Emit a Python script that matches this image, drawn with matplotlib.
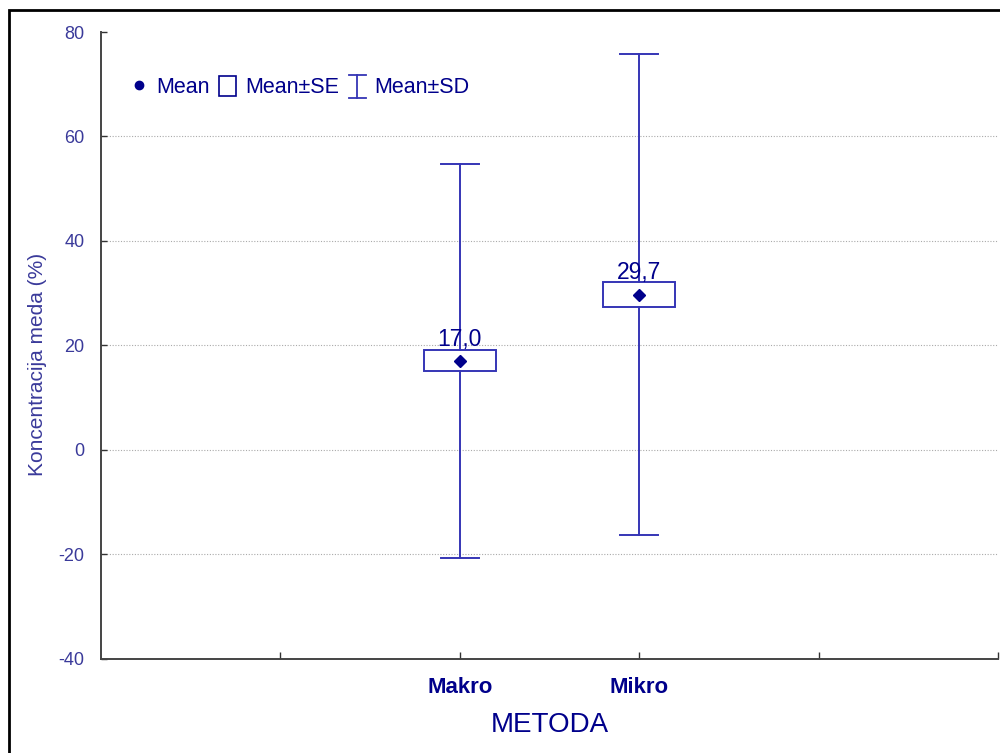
import matplotlib
matplotlib.use('Agg')
import matplotlib.pyplot as plt
from matplotlib.patches import Rectangle
from matplotlib.lines import Line2D
from matplotlib.legend_handler import HandlerBase

# data
methods = ['Makro', 'Mikro']
means = [17.0, 29.7]
se_low = [15.1, 27.4]
se_high = [19.2, 32.1]
sd_low = [-20.7, -16.3]
sd_high = [54.7, 75.7]
mean_labels = ['17,0', '29,7']
yticks = [-40, -20, 0, 20, 40, 60, 80]

line_col = '#3535b5'
navy = '#00008b'
tick_col = '#3a3a9a'

plt.rcParams['font.family'] = ['Liberation Sans', 'DejaVu Sans']


# legend handler for the whisker symbol
class HandlerIBeam(HandlerBase):
    def create_artists(self, legend, orig_handle, xdescent, ydescent,
                       width, height, fontsize, trans):
        cx = width / 2 - xdescent
        w = height * 0.45
        y0 = -ydescent - height * 0.1
        y1 = -ydescent + height * 1.05
        l1 = Line2D([cx, cx], [y0, y1], color=line_col, lw=1.3, transform=trans)
        l2 = Line2D([cx - w, cx + w], [y0, y0], color=line_col, lw=1.3, transform=trans)
        l3 = Line2D([cx - w, cx + w], [y1, y1], color=line_col, lw=1.3, transform=trans)
        return [l1, l2, l3]


class IBeam(object):
    pass


fig = plt.figure(figsize=(10, 7.53), dpi=100)
ax = fig.add_axes([0.101, 0.125, 0.897, 0.8325])

positions = [2, 3]
box_w = 0.4
cap_w = 0.21
for i, x in enumerate(positions):
    # SD whisker
    ax.plot([x, x], [sd_low[i], se_low[i]], color=line_col, lw=1.4)
    ax.plot([x, x], [se_high[i], sd_high[i]], color=line_col, lw=1.4)
    ax.plot([x - cap_w / 2, x + cap_w / 2], [sd_low[i], sd_low[i]], color=line_col, lw=1.4)
    ax.plot([x - cap_w / 2, x + cap_w / 2], [sd_high[i], sd_high[i]], color=line_col, lw=1.4)
    # SE box
    ax.add_patch(Rectangle((x - box_w / 2, se_low[i]), box_w, se_high[i] - se_low[i],
                           fill=False, edgecolor=line_col, lw=1.4, zorder=3))
    # mean
    ax.plot(x, means[i], marker='D', color=navy, markersize=6, zorder=4)
    ax.text(x, se_high[i] - 0.3, mean_labels[i], ha='center', va='bottom',
            fontsize=16.5, color=navy, zorder=5)

ax.set_xlim(0, 5)
ax.set_ylim(-40, 80)
ax.set_xticks([1, 2, 3, 4, 5])
ax.set_xticklabels(['', 'Makro', 'Mikro', '', ''], fontsize=16, fontweight='bold',
                   color=navy)
ax.set_yticks(yticks)
ax.set_yticklabels([str(t) for t in yticks], fontsize=13, color=tick_col)
ax.tick_params(axis='x', direction='in', length=5, width=1, color='#333333', pad=13)
ax.tick_params(axis='y', direction='in', length=4, width=1, color='#333333', pad=12)

for t in [-20, 0, 20, 40, 60]:
    ax.axhline(t, color='#aaaaaa', lw=0.8, ls=(0, (1, 1.5)), zorder=0)

ax.spines['top'].set_visible(False)
ax.spines['right'].set_visible(False)
ax.spines['left'].set_color('#444444')
ax.spines['bottom'].set_color('#444444')
ax.spines['left'].set_linewidth(1.4)
ax.spines['bottom'].set_linewidth(1.4)

ax.set_xlabel('METODA', fontsize=20, color=navy, labelpad=10)
ax.set_ylabel('Koncentracija meda (%)', fontsize=15, color=tick_col)
ax.yaxis.set_label_coords(-0.060, 0.47)

# legend
h_mean = Line2D([], [], marker='o', color=navy, ls='', markersize=6)
h_se = Rectangle((0, 0), 1, 1, fill=False, edgecolor=navy, lw=1.2)
h_sd = IBeam()
ax.legend([h_mean, h_se, h_sd], ['Mean', 'Mean±SE', 'Mean±SD'],
          handler_map={IBeam: HandlerIBeam()},
          loc='upper left', bbox_to_anchor=(0.011, 0.96), ncol=3, frameon=False,
          fontsize=15.5, labelcolor=navy, handlelength=0.8, handletextpad=0.4,
          columnspacing=0.45, handleheight=1.0)

# frame round the figure
fig.patches.append(Rectangle((0.009, -0.1), 1.2, 1.0867, transform=fig.transFigure,
                             fill=False, edgecolor='black', lw=2))

fig.savefig('out.png', dpi=100)
